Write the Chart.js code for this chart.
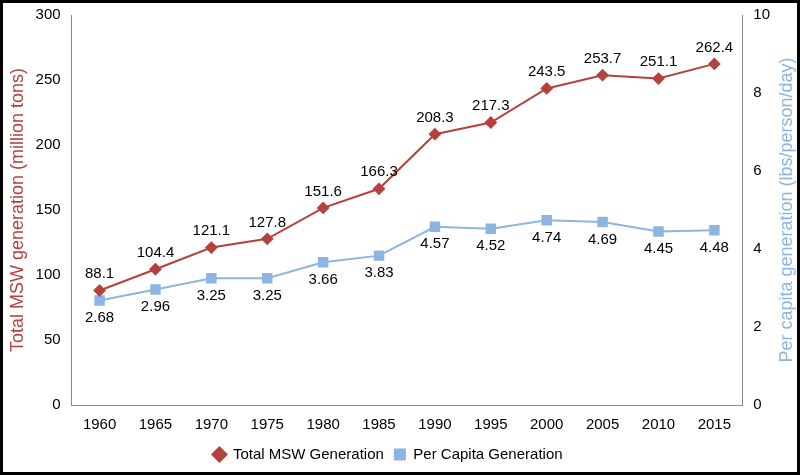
<!DOCTYPE html><html><head><script src="https://cdn.jsdelivr.net/npm/chart.js@4"></script>
<style>html,body{margin:0;background:#000}#w{position:absolute;left:3px;top:3px;width:794px;height:469px;background:#fff}</style></head><body><div id="w"><canvas id="c" width="794" height="469"></canvas></div>
<script>
const years=["1960","1965","1970","1975","1980","1985","1990","1995","2000","2005","2010","2015"];
const totalMSW=[88.1,104.4,121.1,127.8,151.6,166.3,208.3,217.3,243.5,253.7,251.1,262.4];
const perCapita=[2.68,2.96,3.25,3.25,3.66,3.83,4.57,4.52,4.74,4.69,4.45,4.48];
const labels={id:'lbl',afterDatasetsDraw(ch){const x=ch.ctx;x.save();x.font='15px "Liberation Sans"';x.fillStyle='#000';x.textAlign='center';
ch.getDatasetMeta(0).data.forEach((p,i)=>{x.textBaseline='bottom';x.fillText(totalMSW[i].toFixed(1),p.x,p.y-9);});
ch.getDatasetMeta(1).data.forEach((p,i)=>{x.textBaseline='top';x.fillText(perCapita[i].toFixed(2),p.x,p.y+10);});
const a=ch.chartArea;x.translate(ch.width-10,(a.top+a.bottom)/2);x.rotate(-Math.PI/2);x.font='18px "Liberation Sans"';x.fillStyle='#8db4e2';x.textBaseline='middle';x.fillText('Per capita generation (lbs/person/day)',0,0);
x.restore();}};
new Chart(document.getElementById('c'),{type:'line',data:{labels:years,datasets:[
{label:'Total MSW Generation',data:totalMSW,borderColor:'#b5413f',backgroundColor:'#b5413f',pointStyle:'rectRot',pointRadius:5,borderWidth:2,yAxisID:'y'},
{label:'Per Capita Generation',data:perCapita,borderColor:'#8db4e2',backgroundColor:'#8db4e2',pointStyle:'rect',pointRadius:6,borderWidth:2,yAxisID:'y1'}]},
options:{responsive:false,animation:false,layout:{padding:{top:4,right:24,left:0,bottom:0}},
plugins:{legend:{position:'bottom',labels:{font:{size:15,family:'Liberation Sans'},color:'#000',usePointStyle:true,boxWidth:12,boxHeight:10,padding:10}},tooltip:{enabled:false}},
scales:{x:{offset:true,grid:{display:false},border:{color:'#888'},ticks:{color:'#000',font:{size:15,family:'Liberation Sans'}}},
y:{min:0,max:300,ticks:{stepSize:50,color:'#000',font:{size:15,family:'Liberation Sans'}},grid:{display:false},border:{color:'#888'},title:{display:true,text:'Total MSW generation (million tons)',color:'#b5413f',font:{size:18,family:'Liberation Sans'}}},
y1:{position:'right',min:0,max:10,ticks:{stepSize:2,color:'#000',font:{size:15,family:'Liberation Sans'}},grid:{display:false},border:{color:'#888'}}}},
plugins:[labels]});
</script></body></html>
